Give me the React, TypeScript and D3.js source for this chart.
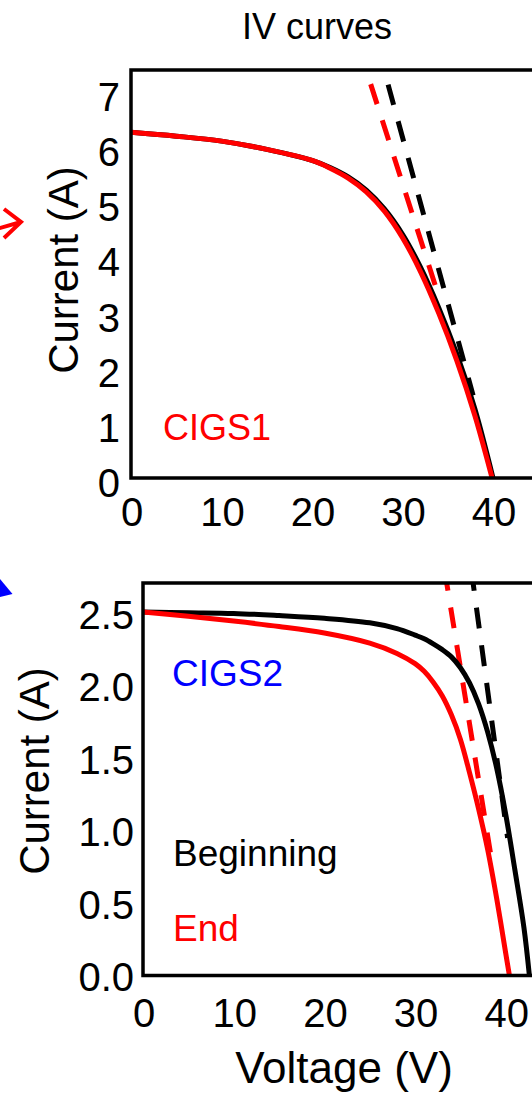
import React from 'react';
import * as d3 from 'd3';

// CIGS1 (top panel)
const topEndVoltage = [0, 5, 10, 15, 20, 22, 24, 26, 28, 30, 32, 34, 36, 38, 39.9];
const topEnd = [6.27, 6.2, 6.11, 5.96, 5.76, 5.62, 5.44, 5.19, 4.84, 4.36, 3.74, 2.99, 2.13, 1.13, 0];
const topBeginVoltage = [0, 5, 10, 15, 20, 22, 24, 26, 28, 30, 32, 34, 36, 38, 40];
const topBegin = [6.27, 6.2, 6.11, 5.96, 5.76, 5.63, 5.46, 5.22, 4.88, 4.42, 3.82, 3.09, 2.25, 1.25, 0];
const topEndFit = [[25.2, 7.8], [33.8, 3.4]];
const topBeginFit = [[27.3, 7.8], [37.8, 1.5]];

// CIGS2 (bottom panel)
const botBeginVoltage = [0, 5, 10, 15, 20, 25, 28, 30, 31, 32, 33, 34, 35, 36, 37, 38, 39, 40, 41, 42, 42.6];
const botBegin = [2.51, 2.505, 2.5, 2.485, 2.466, 2.435, 2.395, 2.35, 2.325, 2.29, 2.25, 2.2, 2.125, 2.02, 1.875, 1.68, 1.43, 1.11, 0.73, 0.33, 0];
const botEndVoltage = [0, 5, 10, 15, 20, 25, 28, 30, 31, 32, 33, 34, 35, 36, 37, 38, 39, 40, 40.4];
const botEnd = [2.51, 2.48, 2.447, 2.41, 2.365, 2.295, 2.224, 2.153, 2.1, 2.025, 1.93, 1.8, 1.63, 1.4, 1.15, 0.87, 0.53, 0.15, 0];
const botBeginFit = [[36.2, 2.8], [40.2, 0.95]];
const botEndFit = [[33.25, 2.8], [38.3, 0.85]];

const topYTicks = [0, 1, 2, 3, 4, 5, 6, 7];
const botYTicks = [0, 0.5, 1, 1.5, 2, 2.5];
const xTicks = [0, 10, 20, 30, 40];

const font = '"Liberation Sans", Arial, Helvetica, sans-serif';
const RED = '#ff0000';
const BLUE = '#0000ff';

const pairs = (vs: number[], is: number[]) => vs.map((v, k) => [v, is[k]] as [number, number]);

const Panel = ({ id, x, y, yTicks, yFmt, labelDy, curves, fits, labelX, labelY }: any) => {
  const line = d3.line<[number, number]>()
    .x(d => x(d[0]))
    .y(d => y(d[1]))
    .curve(d3.curveCatmullRom.alpha(0.5));
  const straight = d3.line<[number, number]>().x(d => x(d[0])).y(d => y(d[1]));
  const [x0, x1] = x.range();
  const [y0, y1] = y.range();
  return (
    <g>
      <defs>
        <clipPath id={id}>
          <rect x={x0} y={y1} width={x1 - x0} height={y0 - y1} />
        </clipPath>
      </defs>
      <g clipPath={`url(#${id})`}>
        {fits.map((f: any, k: number) => (
          <path key={'f' + k} d={straight(f.data) || ''} fill="none" stroke={f.color}
            strokeWidth={5} strokeDasharray="21 17" />
        ))}
        {curves.map((c: any, k: number) => (
          <path key={'c' + k} d={line(c.data) || ''} fill="none" stroke={c.color} strokeWidth={5} />
        ))}
      </g>
      <rect x={x0} y={y1} width={x1 - x0} height={y0 - y1} fill="none" stroke="#000" strokeWidth={3.5} />
      {yTicks.map((t: number) => (
        <text key={'y' + t} x={labelX} y={y(t) + labelDy} textAnchor="end" fontSize={40} fontFamily={font}>
          {yFmt(t)}
        </text>
      ))}
      {xTicks.map(t => (
        <text key={'x' + t} x={x(t) + 1} y={labelY} textAnchor="middle" fontSize={40} fontFamily={font}>
          {t}
        </text>
      ))}
    </g>
  );
};

export default function App() {
  const xTop = d3.scaleLinear().domain([0, 50]).range([131, 583.5]);
  const yTop = d3.scaleLinear().domain([0, 7.4]).range([478, 70]);
  const xBot = d3.scaleLinear().domain([0, 50]).range([143, 596.5]);
  const yBot = d3.scaleLinear().domain([0, 2.71]).range([975.5, 583]);

  return (
    <svg width={532} height={1094} style={{ position: 'absolute', left: 0, top: 0, display: 'block', background: '#fff' }}>
      <rect width={532} height={1094} fill="#fff" />
      <text x={317} y={39} textAnchor="middle" fontSize={36} fontFamily={font}>IV curves</text>

      <Panel id="clipTop" x={xTop} y={yTop} yTicks={topYTicks} yFmt={(t: number) => String(t)}
        labelDy={19} labelX={120} labelY={526}
        fits={[{ data: topBeginFit, color: '#000' }, { data: topEndFit, color: RED }]}
        curves={[{ data: pairs(topBeginVoltage, topBegin), color: '#000' }, { data: pairs(topEndVoltage, topEnd), color: RED }]} />
      <text transform="translate(78,270) rotate(-90)" textAnchor="middle" fontSize={42} fontFamily={font}>Current (A)</text>
      <text x={163} y={440} fontSize={36} fontFamily={font} fill={RED}>CIGS1</text>

      <Panel id="clipBot" x={xBot} y={yBot} yTicks={botYTicks} yFmt={d3.format('.1f')}
        labelDy={15.5} labelX={134} labelY={1027}
        fits={[{ data: botBeginFit, color: '#000' }, { data: botEndFit, color: RED }]}
        curves={[{ data: pairs(botBeginVoltage, botBegin), color: '#000' }, { data: pairs(botEndVoltage, botEnd), color: RED }]} />
      <text transform="translate(49,771) rotate(-90)" textAnchor="middle" fontSize={42} fontFamily={font}>Current (A)</text>
      <text x={344} y={1083} textAnchor="middle" fontSize={44} fontFamily={font}>Voltage (V)</text>
      <text x={172} y={686} fontSize={37} fontFamily={font} fill={BLUE}>CIGS2</text>
      <text x={173} y={866} fontSize={37} fontFamily={font} fill="#000">Beginning</text>
      <text x={173} y={941} fontSize={37} fontFamily={font} fill={RED}>End</text>

      {/* side arrows cut off by the crop */}
      <path d="M-14,232 L21,222 M4,209 L21,222 L4,238" fill="none" stroke={RED} strokeWidth={4} />
      <path d="M0,579 L12.5,594 L0,597 Z" fill={BLUE} />
    </svg>
  );
}
